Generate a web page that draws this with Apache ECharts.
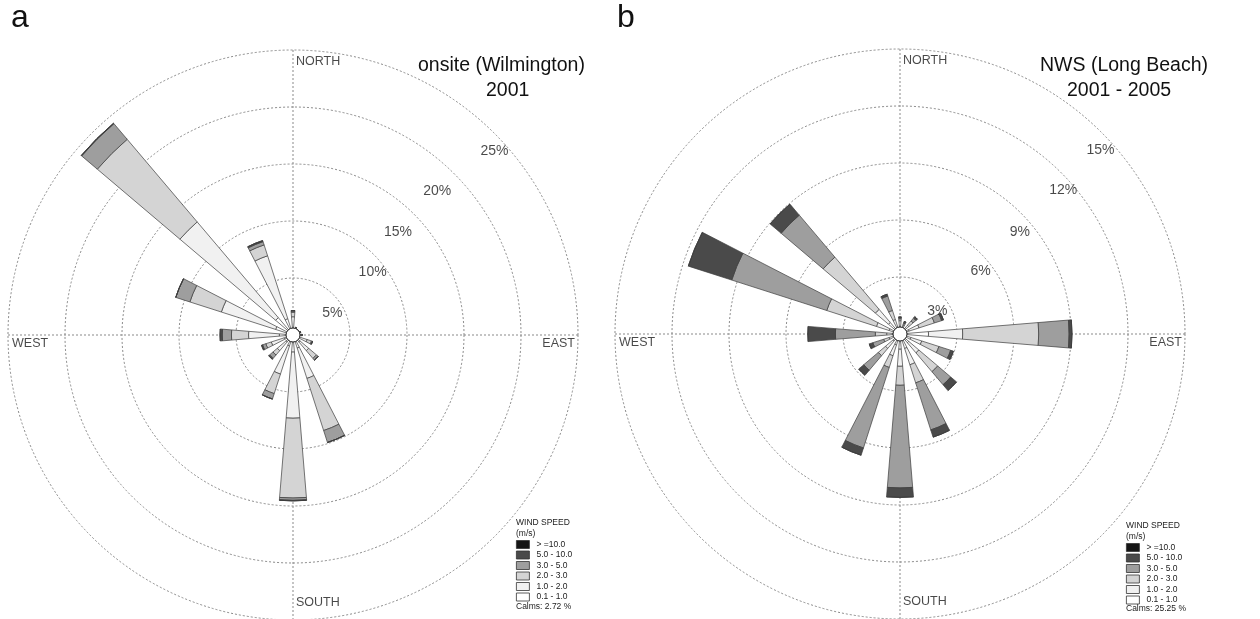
<!DOCTYPE html>
<html><head><meta charset="utf-8">
<script src="https://cdn.jsdelivr.net/npm/echarts@6/dist/echarts.min.js"></script>
<style>html,body{margin:0;padding:0;background:#fff}#c{width:1260px;height:619px}</style>
</head><body><div id="c"></div>
<script>
// ---------- data ----------
const directions = ['N','NNE','NE','ENE','E','ESE','SE','SSE','S','SSW','SW','WSW','W','WNW','NW','NNW'];
const speedClasses = ['0.1 - 1.0','1.0 - 2.0','2.0 - 3.0','3.0 - 5.0','5.0 - 10.0','> =10.0'];

// onsite (Wilmington) 2001, % frequency per speed class
const onsite_0p1_1 = [0.6,0.4,0.4,0.4,0.5,0.6,0.8,1.2,1.5,1.0,0.8,0.8,1.2,1.6,2.0,1.5];
const onsite_1_2   = [1.0,0.2,0.2,0.2,0.2,0.7,1.0,2.8,5.8,2.6,1.0,1.2,2.7,5.0,11.0,5.8];
const onsite_2_3   = [0.4,0.1,0.0,0.1,0.1,0.4,0.9,4.8,7.0,1.8,0.5,0.5,1.5,2.9,9.5,1.0];
const onsite_3_5   = [0.1,0,0,0,0,0.1,0.2,1.1,0.2,0.5,0.4,0.3,0.8,1.3,1.8,0.3];
const onsite_5_10  = [0.05,0,0,0,0,0,0,0,0.05,0,0.1,0.1,0.2,0,0.05,0.1];
const onsite_10up  = [0,0,0,0,0,0,0,0,0,0,0,0,0,0,0,0];

// NWS (Long Beach) 2001-2005
const nws_0p1_1 = [0.4,0.2,0.3,0.5,1.5,0.6,0.6,0.8,0.8,0.6,0.5,0.3,0.4,0.6,0.8,0.4];
const nws_1_2   = [0.3,0.2,0.3,0.55,1.8,0.6,0.7,0.9,0.9,0.6,0.5,0.3,0.3,0.7,0.9,0.4];
const nws_2_3   = [0.1,0.1,0.3,0.85,4.0,0.95,1.3,1.0,1.0,0.65,0.5,0.3,0.6,2.75,3.6,0.5];
const nws_3_5   = [0.05,0.1,0.2,0.4,1.6,0.65,0.9,2.6,5.4,4.45,1.0,0.6,2.1,5.25,2.9,0.8];
const nws_5_10  = [0.05,0.1,0.1,0.1,0.15,0.15,0.4,0.4,0.5,0.4,0.35,0.2,1.45,2.4,0.76,0.1];
const nws_10up  = [0,0,0,0,0,0,0,0,0,0,0,0,0,0,0,0];

const onsiteRings = [5,10,15,20,25];
const nwsRings = [3,6,9,12,15];
const compassDirs = ['N','E','S','W'];
const compassNames = ['NORTH','EAST','SOUTH','WEST'];
const onsiteCalms = '2.72';
const nwsCalms = '25.25';

// ---------- styling / layout ----------
const FONT = 'Liberation Sans, Arial, sans-serif';
const classColors = ['#ffffff','#f1f1f1','#d4d4d4','#9e9e9e','#4a4a4a','#151515'];
const dotted = {color:'#8a8a8a', width:1, type:[2,2]};
const P = [{cx:293, cy:335, r:285}, {cx:900, cy:334, r:285}];
const ringLabelOffsets = [
  [[-1,18],[-1,18],[-16,18],[-17,17],[0,18]],
  [[-3,17],[0,18],[-1,19],[2,17],[-1,18]]
];

const sites = [
  {data:[onsite_0p1_1,onsite_1_2,onsite_2_3,onsite_3_5,onsite_5_10,onsite_10up], rings:onsiteRings},
  {data:[nws_0p1_1,nws_1_2,nws_2_3,nws_3_5,nws_5_10,nws_10up], rings:nwsRings}
];

const series = [];
sites.forEach((s, pi) => {
  const maxR = s.rings[s.rings.length-1];
  // N-S and W-E dotted cross lines
  [['N','S'],['W','E']].forEach(pair => {
    series.push({
      type:'line', coordinateSystem:'polar', polarIndex:pi, symbol:'none', silent:true, z:1,
      data:pair.map(d => [maxR, d]), lineStyle:dotted, emphasis:{disabled:true}
    });
  });
  s.data.forEach((arr, ci) => {
    series.push({
      type:'bar', coordinateSystem:'polar', polarIndex:pi, name:speedClasses[ci],
      stack:'site'+pi, data:arr, barWidth:'42%',
      itemStyle:{color:classColors[ci], borderColor:'#3c3c3c', borderWidth:0.7},
      emphasis:{disabled:true}, silent:true, z:2
    });
  });
  series.push({
    type:'scatter', coordinateSystem:'polar', polarIndex:pi, symbolSize:0, silent:true, z:5,
    data:s.rings.map((v, k) => ({value:[v, 'NE'], label:{offset:ringLabelOffsets[pi][k]}})),
    label:{show:true, formatter:p => p.value[0] + '%', fontSize:14, fontFamily:FONT, color:'#1a1a1a'}
  });
  const posMap = {
    N:{position:[3,5], align:'left', verticalAlign:'top'},
    S:{position:[3,-24], align:'left', verticalAlign:'top'},
    W:{position:[4,2], align:'left', verticalAlign:'top'},
    E:{position:[-3,2], align:'right', verticalAlign:'top'}
  };
  series.push({
    type:'scatter', coordinateSystem:'polar', polarIndex:pi, symbolSize:0, silent:true, z:5,
    data:compassDirs.map((d, i) => ({value:[maxR, d], name:compassNames[i],
      label:Object.assign({show:true, formatter:compassNames[i], fontSize:12.5, fontFamily:FONT, color:'#1a1a1a'}, posMap[d])}))
  });
});

const legendOrder = speedClasses.slice().reverse();
const legendBase = {
  orient:'vertical', data:legendOrder, icon:'rect', itemWidth:13, itemHeight:8, itemGap:1.5,
  selectedMode:false, padding:0,
  textStyle:{fontSize:8.5, fontFamily:FONT, color:'#222', padding:[0,0,0,2]},
  itemStyle:{borderColor:'#333', borderWidth:0.8}
};

const smallTitle = (text, left, top) => ({text, left, top, padding:0,
  textStyle:{fontSize:8.5, fontWeight:'normal', fontFamily:FONT, color:'#222'}});
const bigTitle = (text, left, top, size) => ({text, left, top, padding:0,
  textStyle:{fontSize:size, fontWeight:'normal', fontFamily:FONT, color:'#111'}});

const option = {
  animation:false,
  backgroundColor:'#fff',
  title:[
    bigTitle('a', 11, 2, 32), bigTitle('b', 617, 2, 32),
    bigTitle('onsite (Wilmington)', 418, 56, 19.5), bigTitle('2001', 486, 81, 19.5),
    bigTitle('NWS (Long Beach)', 1040, 56, 19.5), bigTitle('2001 - 2005', 1067, 81, 19.5),
    smallTitle('WIND SPEED', 516, 518), smallTitle('(m/s)', 516, 529),
    smallTitle('Calms: ' + onsiteCalms + ' %', 516, 602),
    smallTitle('WIND SPEED', 1126, 521), smallTitle('(m/s)', 1126, 532),
    smallTitle('Calms: ' + nwsCalms + ' %', 1126, 604)
  ],
  legend:[
    Object.assign({left:516, top:540}, legendBase),
    Object.assign({left:1126, top:543}, legendBase)
  ],
  polar:P.map(p => ({center:[p.cx, p.cy], radius:[0, p.r]})),
  angleAxis:P.map((p, i) => ({
    polarIndex:i, type:'category', data:directions, startAngle:90 + 180 / directions.length, clockwise:true, boundaryGap:true,
    axisLine:{show:false}, axisTick:{show:false}, axisLabel:{show:false}, splitLine:{show:false}
  })),
  radiusAxis:sites.map((s, i) => ({
    polarIndex:i, type:'value', min:0, max:s.rings[s.rings.length-1], interval:s.rings[0],
    axisLine:{show:false}, axisTick:{show:false}, axisLabel:{show:false},
    splitLine:{show:true, lineStyle:dotted}
  })),
  graphic:P.map(p => ({type:'circle', shape:{cx:p.cx, cy:p.cy, r:7}, style:{fill:'#fff', stroke:'#222', lineWidth:1}, z:100})),
  series
};

const chart = echarts.init(document.getElementById('c'), null, {renderer:'canvas'});
chart.setOption(option);
</script>
</body></html>
